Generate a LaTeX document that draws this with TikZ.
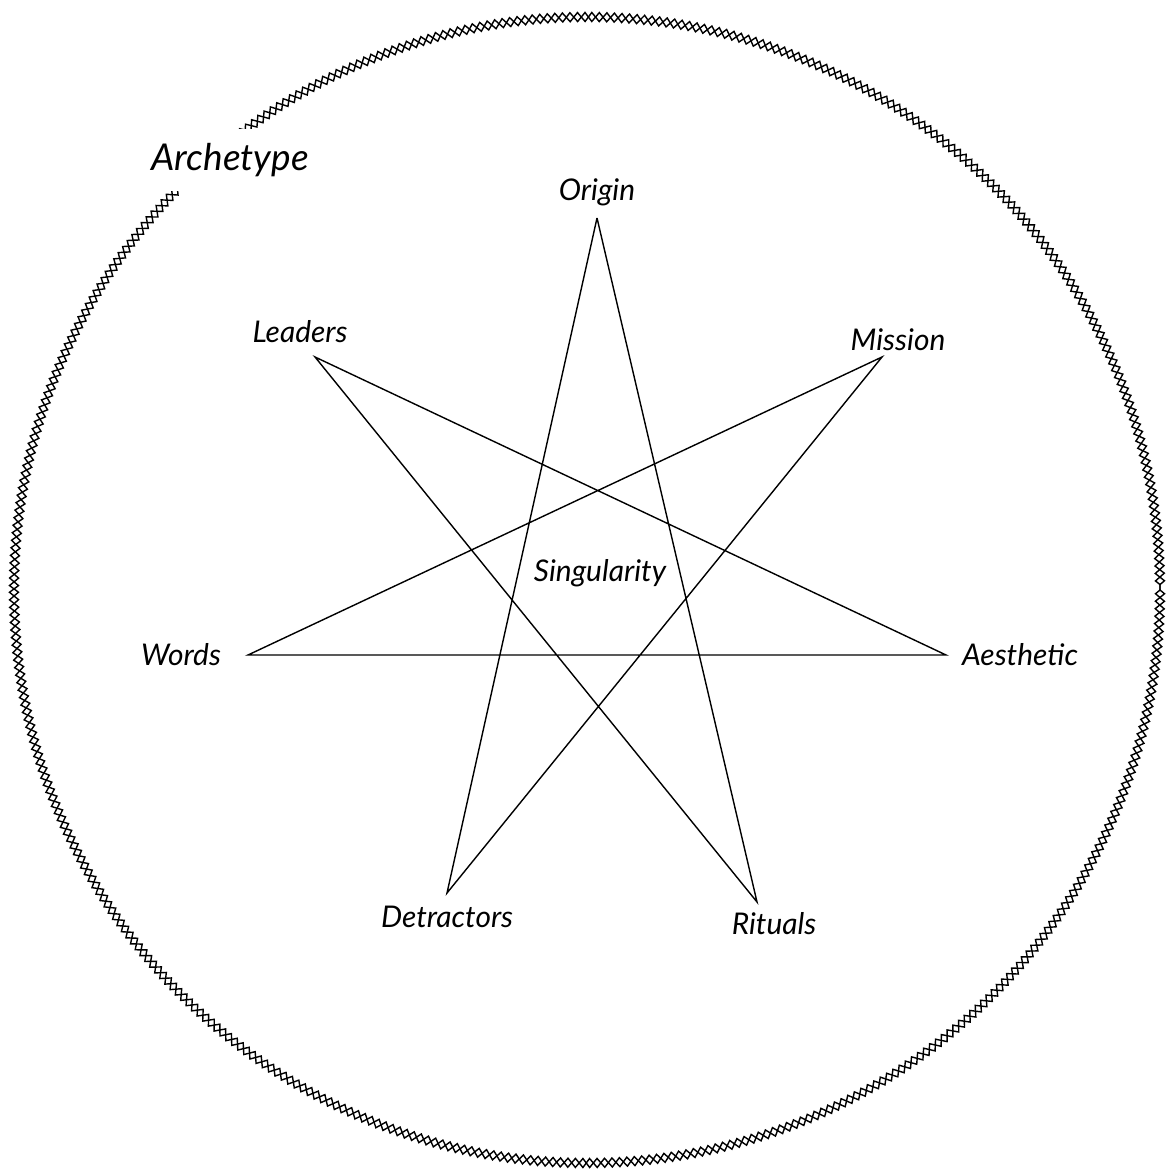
\documentclass[tikz,border=0pt]{standalone}
\usepackage{fontspec}
\setmainfont{Lato}
\usetikzlibrary{decorations.pathmorphing}
\tikzstyle{point} = [font=\fontsize{8.5}{9}\selectfont\itshape, inner sep=1pt]
\tikzstyle{ring} = [decorate, decoration={zigzag, segment length=1.5mm, amplitude=0.45mm}, line width=0.4pt]

\begin{document}
\begin{tikzpicture}[x=0.01cm,y=-0.01cm]
    \useasboundingbox (0,0) rectangle (1174,1171);
    % the outer ring, drawn twice so the zigzags form diamonds
    \draw [ring] (587,590) circle (573);
    \draw [ring, decoration={mirror}] (587,590) circle (573);
    \node [fill=white, font=\fontsize{10.5}{11}\selectfont\itshape, inner sep=4pt] (arch) at (230,160) {Archetype};

    % corners of the star
    \coordinate (origin) at (597,218);
    \coordinate (mission) at (882,357);
    \coordinate (aesth) at (946,655);
    \coordinate (rituals) at (757,902);
    \coordinate (detr) at (447,893);
    \coordinate (words) at (248,655);
    \coordinate (leaders) at (315,357);

    % labels
    \node [point] (lorigin) at (597,192) {Origin};
    \node [point] (lmission) at (898,340) {Mission};
    \node [point] (laesth) at (1020,655) {Aesthetic};
    \node [point] (lrituals) at (774,924) {Rituals};
    \node [point] (ldetr) at (447,917) {Detractors};
    \node [point] (lwords) at (181,655) {Words};
    \node [point] (lleaders) at (300,332) {Leaders};
    \node [point] (sing) at (600,573) {Singularity};

    % the star
    \draw (origin) -- (detr) -- (mission) -- (words) -- (aesth) -- (leaders) -- (rituals) -- (origin);
\end{tikzpicture}
\end{document}
